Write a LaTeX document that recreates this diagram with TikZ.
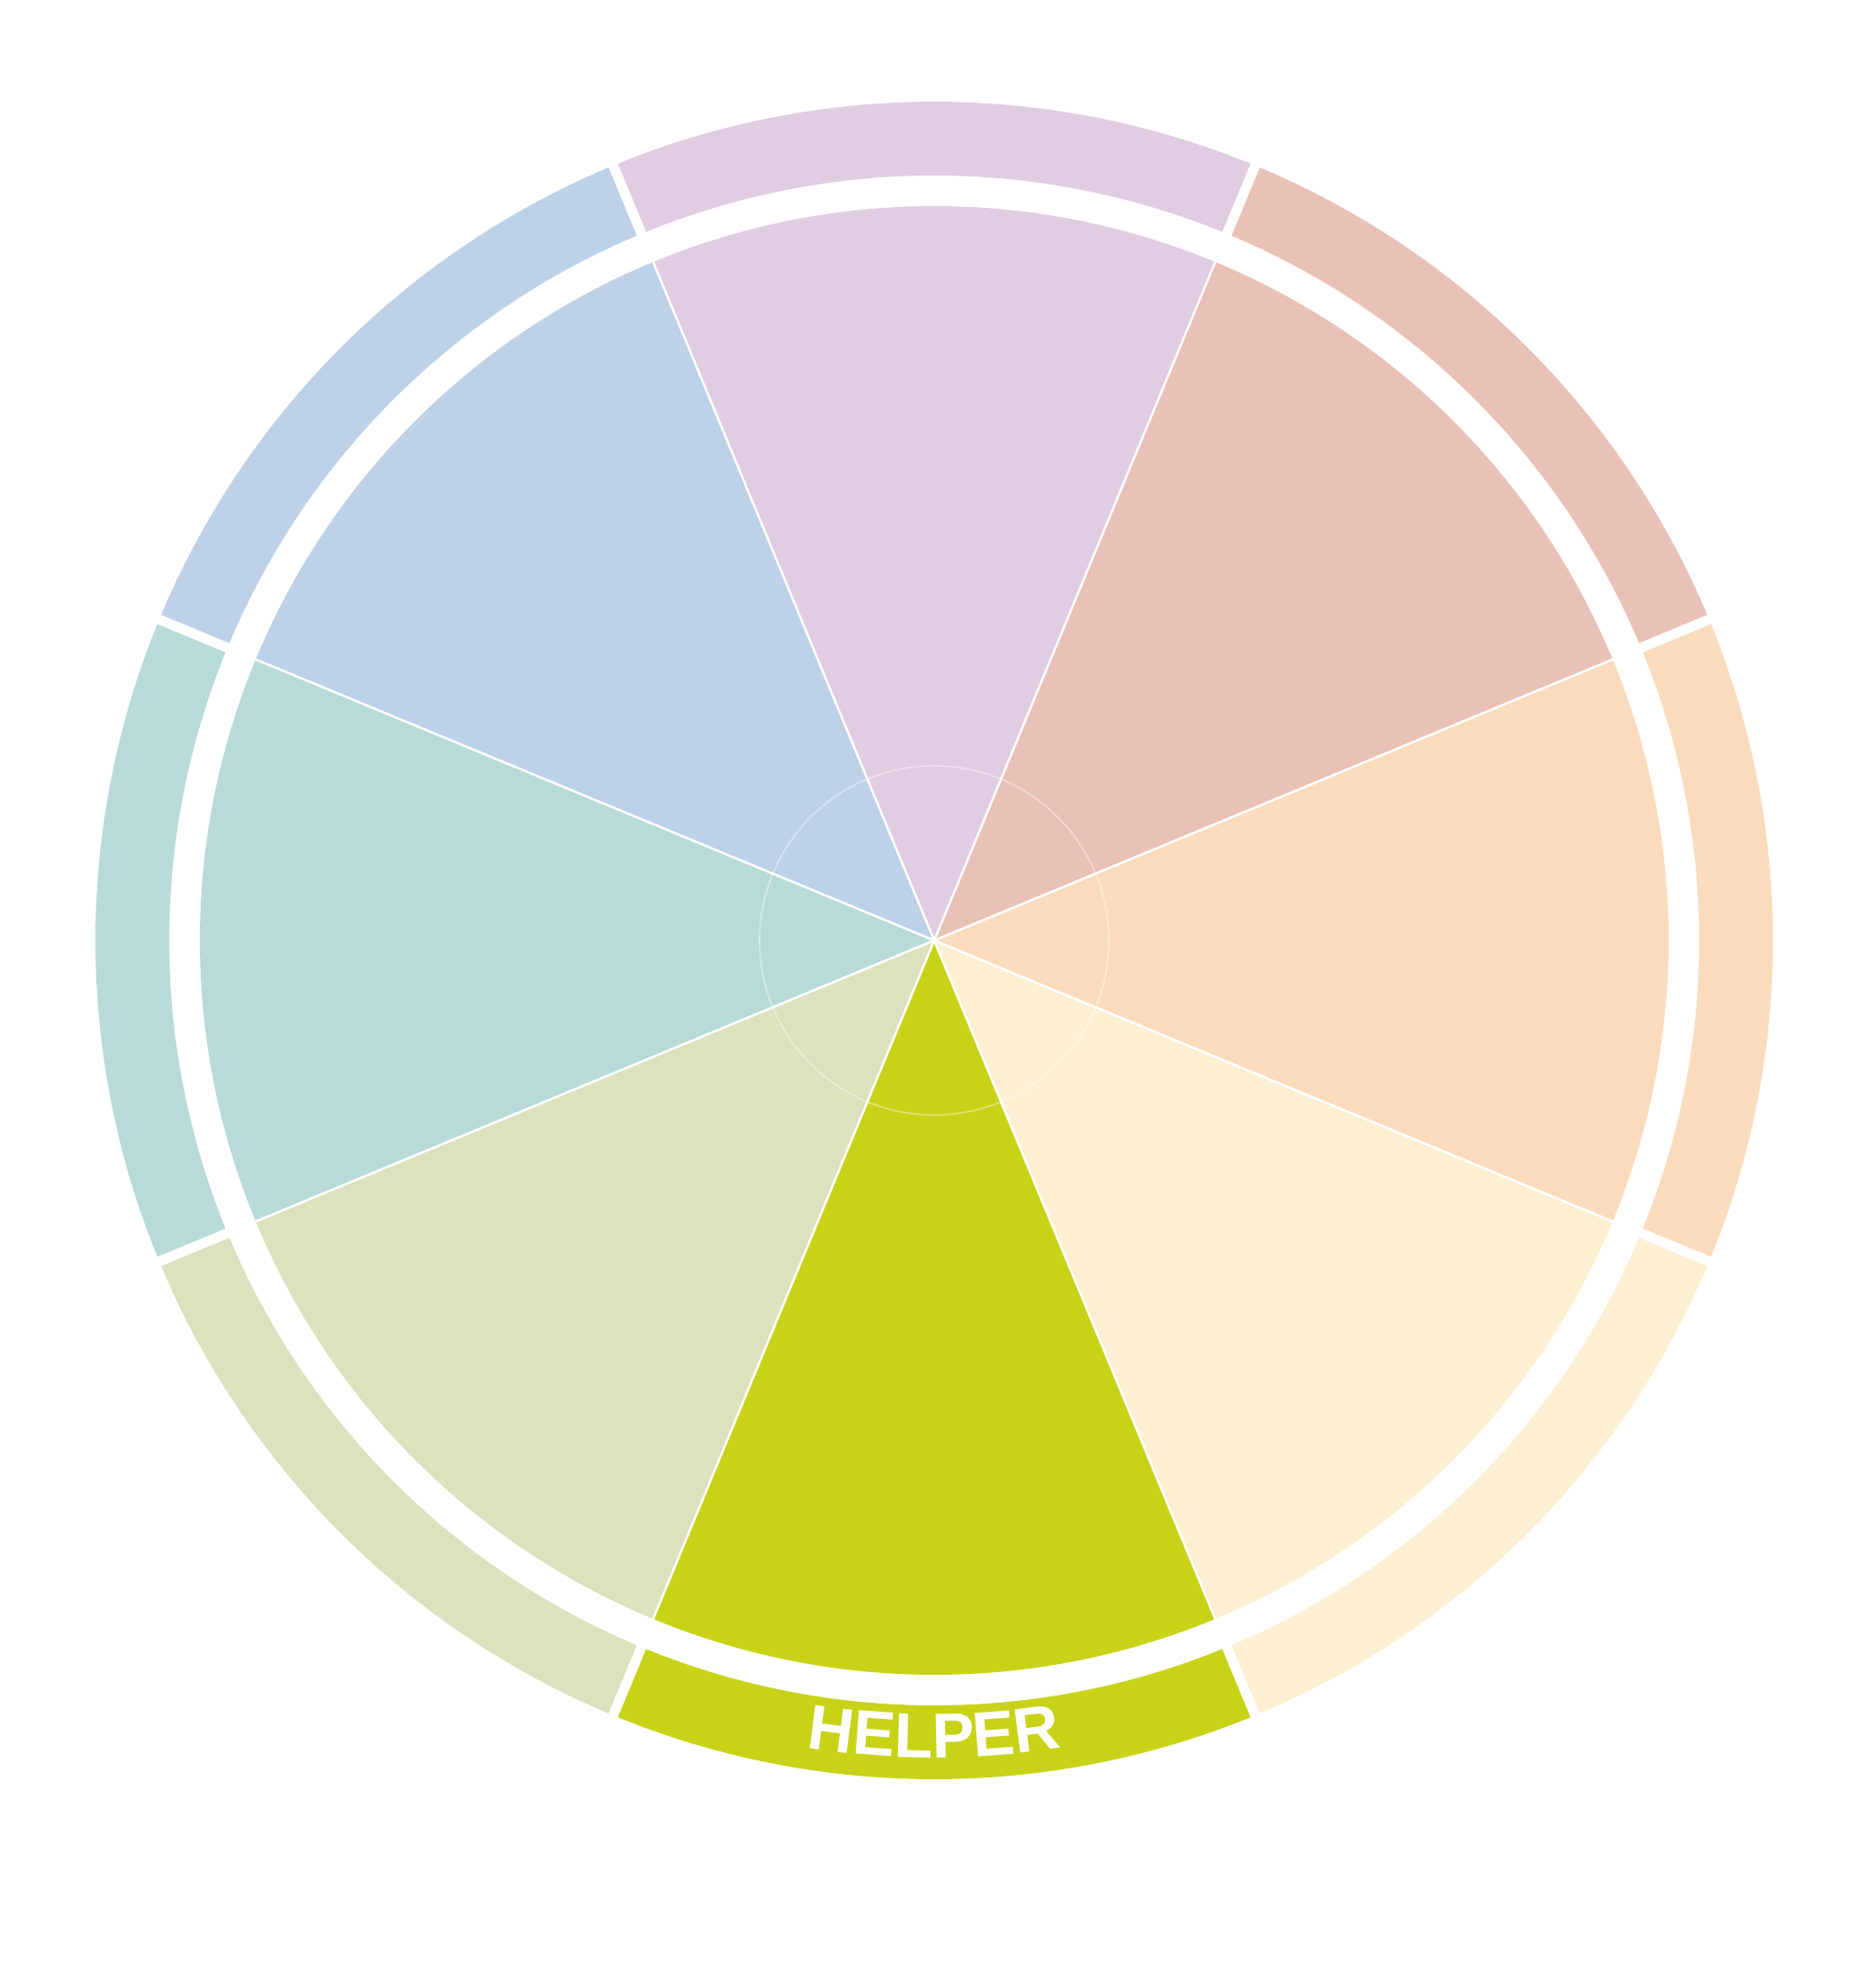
\documentclass[tikz,border=0pt]{standalone}
\usepackage{fontspec}
\setmainfont{Liberation Sans}
\usetikzlibrary{decorations.text}

\definecolor{wheelpurple}{HTML}{E0CDE1}
\definecolor{wheelsalmon}{HTML}{EAC1B6}
\definecolor{wheelpeach}{HTML}{FADCBC}
\definecolor{wheelcream}{HTML}{FDEFD2}
\definecolor{wheellime}{HTML}{C8D317}
\definecolor{wheelsage}{HTML}{DCE1BE}
\definecolor{wheelteal}{HTML}{B8DBD8}
\definecolor{wheelblue}{HTML}{BDD1E8}

\begin{document}
\begin{tikzpicture}

    \useasboundingbox (-10.38,-11.64) rectangle (10.41,10.45);
    \coordinate (O) at (0,0);

    %wedges
    \fill[wheelpurple] (O) -- (67.5:8.16) arc (67.5:112.5:8.16) -- cycle;
    \fill[wheelblue] (O) -- (112.5:8.16) arc (112.5:157.5:8.16) -- cycle;
    \fill[wheelteal] (O) -- (157.5:8.16) arc (157.5:202.5:8.16) -- cycle;
    \fill[wheelsage] (O) -- (202.5:8.16) arc (202.5:247.5:8.16) -- cycle;
    \fill[wheellime] (O) -- (247.5:8.16) arc (247.5:292.5:8.16) -- cycle;
    \fill[wheelcream] (O) -- (292.5:8.16) arc (292.5:337.5:8.16) -- cycle;
    \fill[wheelpeach] (O) -- (-22.5:8.16) arc (-22.5:22.5:8.16) -- cycle;
    \fill[wheelsalmon] (O) -- (22.5:8.16) arc (22.5:67.5:8.16) -- cycle;

    %ring
    \fill[wheelpurple] (67.5:8.5) arc (67.5:112.5:8.5) -- (112.5:9.32) arc (112.5:67.5:9.32) -- cycle;
    \fill[wheelblue] (112.5:8.5) arc (112.5:157.5:8.5) -- (157.5:9.32) arc (157.5:112.5:9.32) -- cycle;
    \fill[wheelteal] (157.5:8.5) arc (157.5:202.5:8.5) -- (202.5:9.32) arc (202.5:157.5:9.32) -- cycle;
    \fill[wheelsage] (202.5:8.5) arc (202.5:247.5:8.5) -- (247.5:9.32) arc (247.5:202.5:9.32) -- cycle;
    \fill[wheellime] (247.5:8.5) arc (247.5:292.5:8.5) -- (292.5:9.32) arc (292.5:247.5:9.32) -- cycle;
    \fill[wheelcream] (292.5:8.5) arc (292.5:337.5:8.5) -- (337.5:9.32) arc (337.5:292.5:9.32) -- cycle;
    \fill[wheelpeach] (-22.5:8.5) arc (-22.5:22.5:8.5) -- (22.5:9.32) arc (22.5:-22.5:9.32) -- cycle;
    \fill[wheelsalmon] (22.5:8.5) arc (22.5:67.5:8.5) -- (67.5:9.32) arc (67.5:22.5:9.32) -- cycle;

    %gaps in the ring
    \draw[white, line width=0.11cm] (22.5:8.4) -- (22.5:9.45);
    \draw[white, line width=0.11cm] (67.5:8.4) -- (67.5:9.45);
    \draw[white, line width=0.11cm] (112.5:8.4) -- (112.5:9.45);
    \draw[white, line width=0.11cm] (157.5:8.4) -- (157.5:9.45);
    \draw[white, line width=0.11cm] (202.5:8.4) -- (202.5:9.45);
    \draw[white, line width=0.11cm] (247.5:8.4) -- (247.5:9.45);
    \draw[white, line width=0.11cm] (292.5:8.4) -- (292.5:9.45);
    \draw[white, line width=0.11cm] (337.5:8.4) -- (337.5:9.45);

    %spokes
    \draw[white, line width=0.025cm] (22.5:8.16) -- (202.5:8.16);
    \draw[white, line width=0.025cm] (67.5:8.16) -- (247.5:8.16);
    \draw[white, line width=0.025cm] (112.5:8.16) -- (292.5:8.16);
    \draw[white, line width=0.025cm] (157.5:8.16) -- (337.5:8.16);

    %hub
    \draw[white, opacity=0.4, line width=0.018cm] (O) circle (1.94);

    %label
    \path[decorate, decoration={text along path, text align=center, text color=white,
        text={|\fontsize{20}{24}\selectfont\bfseries|HELPER}}]
        (240:9.08) arc (240:300:9.08);

\end{tikzpicture}
\end{document}
